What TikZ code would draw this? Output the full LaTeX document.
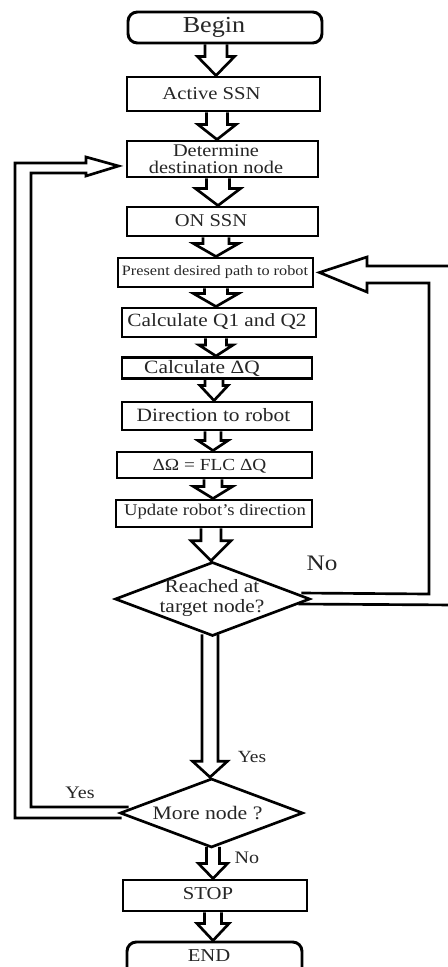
\documentclass[tikz,border=0pt]{standalone}
\usepackage{fontspec}
\setmainfont{Liberation Serif}[FakeStretch=1.14]
\usetikzlibrary{calc,shapes.geometric}
\tikzset{
  box/.style={draw, line width=2.2pt, inner sep=0pt},
  rbox/.style={box, rounded corners=7pt},
  dia/.style={draw, diamond, line width=2pt, inner sep=0pt},
  txt/.style={inner sep=0pt, text=black!85, align=center},
  arr/.style={draw, line width=2pt, line join=miter},
  wh/.style 2 args={minimum width=#1*0.75pt, minimum height=#2*0.75pt},
  fs/.style 2 args={font=\fontsize{#1}{#2}\selectfont},
}
% block arrow: from, to, x-coordinate, shaft half, head half, head length, start offset
\newcommand\barr[7]{%
  \draw[arr] ($(#1.south -| #3)+(-#4,-#7)$) -- ($(#2.north -| #3)+(-#4,-#6)$)
    -- ($(#2.north -| #3)+(-#5,-#6)$) -- (#2.north -| #3)
    -- ($(#2.north -| #3)+(#5,-#6)$) -- ($(#2.north -| #3)+(#4,-#6)$)
    -- ($(#1.south -| #3)+(#4,-#7)$);}
\begin{document}
\begin{tikzpicture}[x=0.75pt, y=-0.75pt]
\useasboundingbox (0,0) rectangle (447,967);
\fill[white] (0,0) rectangle (447,967);

% boxes
\node[rbox, wh={194}{31}] (begin) at (225,27.5) {};
\node[box, wh={193}{34}] (act) at (223.5,94) {};
\node[box, wh={191}{36}] (det) at (222.5,159) {};
\node[box, wh={191}{29}] (on) at (222.5,221.5) {};
\node[box, wh={195}{29}] (pres) at (215.5,272.5) {};
\node[box, wh={194}{29}] (q12) at (219,322.5) {};
\node[box, wh={190}{21}] (dq) at (217,368) {};
\node[box, wh={190}{28}] (dir) at (217,416) {};
\node[box, wh={195}{26}] (dom) at (214.5,465) {};
\node[box, wh={196}{27}] (upd) at (214,513.5) {};
\node[dia, wh={195}{74}] (reach) at (212.5,599) {};
\node[dia, wh={183}{69}] (more) at (211.5,813) {};
\node[box, wh={184}{31}] (stop) at (215,895.5) {};
\node[rbox, wh={175}{40}] (end) at (214.5,962) {};

% texts
\node[txt, fs={17.2}{20}] (tbegin) at (214,27) {Begin};
\node[txt, fs={13.6}{16}] (tact) at (211.5,94) {Active SSN};
\node[txt, fs={13.4}{12.6}] (tdet) at (216,159) {Determine\\destination node};
\node[txt, fs={13.5}{16}] (ton) at (211,221) {ON SSN};
\node[txt, fs={10.7}{13}] (tpres) at (215,272) {Present desired path to robot};
\node[txt, fs={14}{16}] (tq12) at (217,322) {Calculate Q1 and Q2};
\node[txt, fs={14.1}{16}] (tdq) at (202,368) {Calculate ΔQ};
\node[txt, fs={14.1}{16}] (tdir) at (213.5,415) {Direction to robot};
\node[txt, fs={12.7}{15}] (tdom) at (209.5,466) {ΔΩ = FLC ΔQ};
\node[txt, fs={12.3}{14}] (tupd) at (215,512) {Update robot's direction};
\node[txt, fs={14.1}{15}] (treach) at (212,598) {Reached at\\target node?};
\node[txt, fs={14.3}{16}] (tmore) at (207.5,813) {More node ?};
\node[txt, fs={13.6}{16}] (tstop) at (208,894) {STOP};
\node[txt, fs={13.6}{16}] (tend) at (209,956) {END};
\node[txt, fs={12.8}{15}] (lyes1) at (252,757) {Yes};
\node[txt, fs={13.2}{15}] (lno1) at (247,858) {No};
\node[txt, fs={16.6}{19}] (lno2) at (322,563) {No};
\node[txt, fs={13.2}{15}] (lyes2) at (80,793) {Yes};

% arrow x positions
\coordinate (x216) at (216,0);
\coordinate (x217) at (217,0);
\coordinate (x218) at (218,0);
\coordinate (x214) at (214,0);
\coordinate (x213) at (213,0);
\coordinate (x211) at (211,0);
\coordinate (x210) at (210,0);

% block arrows
\barr{begin}{act}{x216}{11}{18.5}{19}{0}
\barr{act}{det}{x217}{10.5}{19}{15}{0}
\barr{det}{on}{x218}{11.5}{22.5}{17}{0}
\barr{on}{pres}{x216}{13}{22.5}{13}{0}
\barr{pres}{q12}{x216}{11.5}{22.5}{13}{0}
\barr{q12}{dq}{x216}{10.5}{17}{11}{0}
\barr{dq}{dir}{x214}{9}{14}{15}{0}
\barr{dir}{dom}{x213}{8}{15}{10}{0}
\barr{dom}{upd}{x213}{9}{19.5}{12}{0}
\barr{upd}{reach}{x211}{10}{20}{20}{0}
\barr{reach}{more}{x210}{8}{17.5}{16}{3}
\barr{more}{stop}{x213}{6.5}{14.5}{15}{2}
\barr{stop}{end}{x213}{8.5}{16}{17}{0}

% left loop: More node -> Determine
\draw[arr] ($(more.west)+(10,-6)$) -- (31,807) -- (31,173) -- (86,173) -- (86,176)
  -- ($(det.west)+(-7,7)$) -- (86,157) -- (86,163) -- (15,163) -- (15,818)
  -- ($(more.west)+(3,5)$);

% right loop: Reached -> Present
\draw[arr] ($(reach.east)+(-10,-6)$) -- (429,594) -- (429,283) -- (367,283) -- (367,292)
  -- ($(pres.east)+(5,0)$) -- (367,257) -- (367,266) -- (456,266) -- (456,605)
  -- ($(reach.east)+(-13,5)$);
\end{tikzpicture}
\end{document}
